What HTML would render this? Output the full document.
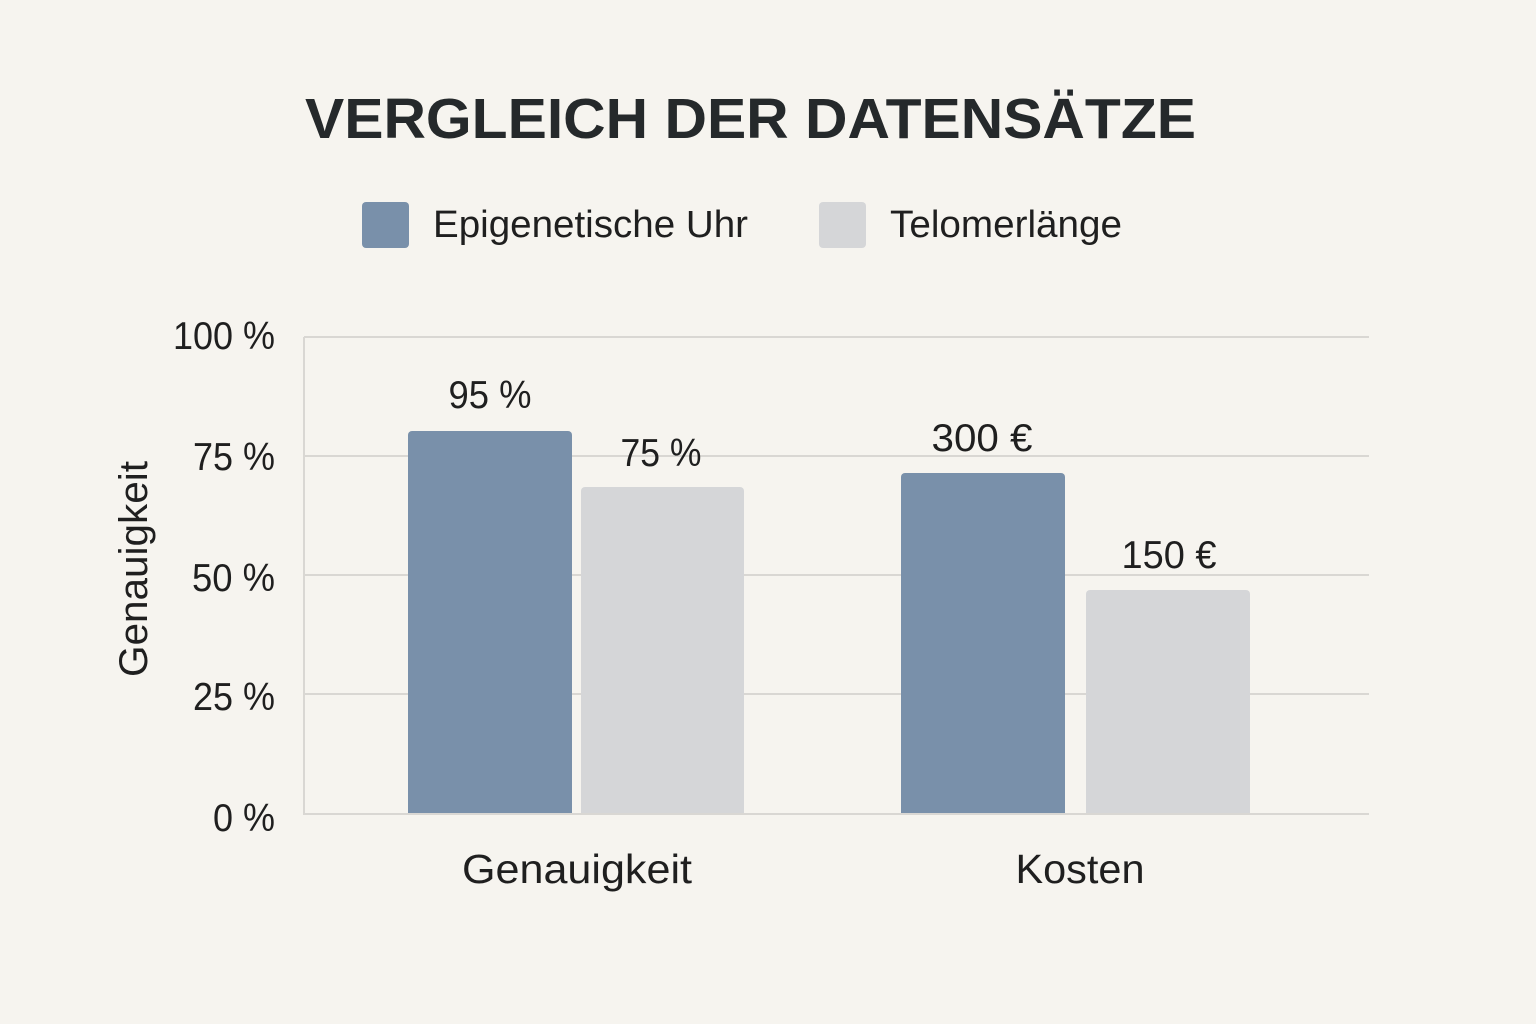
<!DOCTYPE html>
<html>
<head>
<meta charset="utf-8">
<style>
html,body{margin:0;padding:0;background:#f6f4ef;}
svg{display:block;}
text{font-family:"Liberation Sans",sans-serif;fill:#1f1f1f;}
</style>
</head>
<body>
<svg width="1536" height="1024" viewBox="0 0 1536 1024" xmlns="http://www.w3.org/2000/svg">
<rect x="0" y="0" width="1536" height="1024" fill="#f6f4ef"/>

<!-- Title -->
<text x="305" y="138" font-size="57" font-weight="bold" fill="#25292b" style="fill:#25292b" textLength="891" lengthAdjust="spacingAndGlyphs">VERGLEICH DER DATENSÄTZE</text>

<!-- Legend -->
<rect x="362" y="202" width="47" height="46" rx="4" fill="#7990aa"/>
<text x="433" y="237" font-size="38" textLength="315" lengthAdjust="spacingAndGlyphs">Epigenetische Uhr</text>
<rect x="819" y="202" width="47" height="46" rx="4" fill="#d5d6d8"/>
<text x="890" y="237" font-size="38" textLength="232" lengthAdjust="spacingAndGlyphs">Telomerlänge</text>

<!-- Gridlines -->
<g stroke="#d9d7d3" stroke-width="2">
<line x1="304" y1="337" x2="1369" y2="337"/>
<line x1="304" y1="456" x2="1369" y2="456"/>
<line x1="304" y1="575" x2="1369" y2="575"/>
<line x1="304" y1="694" x2="1369" y2="694"/>
<line x1="304" y1="337" x2="304" y2="815"/>
</g>

<!-- Bars -->
<rect x="408" y="431" width="164" height="387" rx="4" fill="#7990aa"/>
<rect x="581" y="487" width="163" height="331" rx="4" fill="#d5d6d8"/>
<rect x="901" y="473" width="164" height="345" rx="4" fill="#7990aa"/>
<rect x="1086" y="590" width="164" height="228" rx="4" fill="#d5d6d8"/>

<!-- baseline axis -->
<rect x="0" y="815" width="1536" height="10" fill="#f6f4ef"/>
<line x1="304" y1="814" x2="1369" y2="814" stroke="#d9d7d3" stroke-width="2"/>

<!-- Y tick labels -->
<text x="173" y="349" font-size="39" textLength="102" lengthAdjust="spacingAndGlyphs">100 %</text>
<text x="193" y="470" font-size="39" textLength="82" lengthAdjust="spacingAndGlyphs">75 %</text>
<text x="192" y="591" font-size="39" textLength="83" lengthAdjust="spacingAndGlyphs">50 %</text>
<text x="193" y="710" font-size="39" textLength="82" lengthAdjust="spacingAndGlyphs">25 %</text>
<text x="213" y="831" font-size="39" textLength="62" lengthAdjust="spacingAndGlyphs">0 %</text>

<!-- Y axis title -->
<text transform="translate(147,569) rotate(-90)" x="0" y="0" font-size="40" text-anchor="middle" textLength="216" lengthAdjust="spacingAndGlyphs">Genauigkeit</text>

<!-- Value labels -->
<text x="490" y="408" font-size="39" text-anchor="middle" textLength="83" lengthAdjust="spacingAndGlyphs">95 %</text>
<text x="661" y="466" font-size="39" text-anchor="middle" textLength="81" lengthAdjust="spacingAndGlyphs">75 %</text>
<text x="982" y="451" font-size="39" text-anchor="middle" textLength="101" lengthAdjust="spacingAndGlyphs">300 €</text>
<text x="1169" y="568" font-size="39" text-anchor="middle" textLength="95" lengthAdjust="spacingAndGlyphs">150 €</text>

<!-- X labels -->
<text x="577" y="883" font-size="41" text-anchor="middle" textLength="230" lengthAdjust="spacingAndGlyphs">Genauigkeit</text>
<text x="1080" y="883" font-size="41" text-anchor="middle" textLength="129" lengthAdjust="spacingAndGlyphs">Kosten</text>
</svg>
</body>
</html>
